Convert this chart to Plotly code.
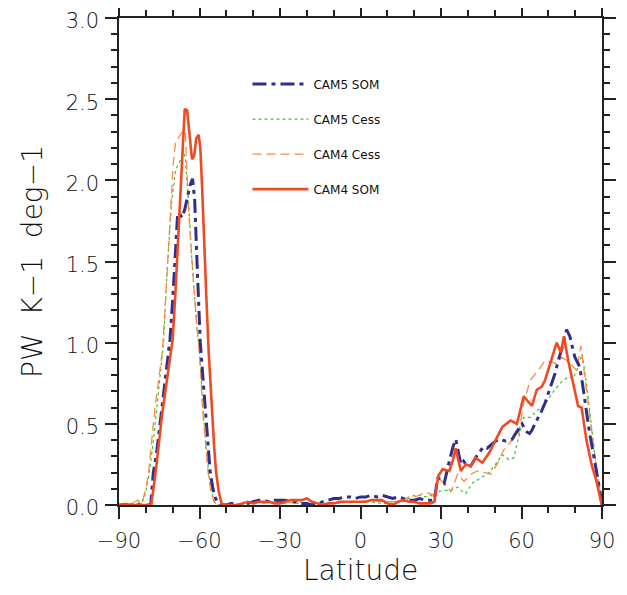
import plotly.graph_objects as go

# ---------------- data ----------------
lat_cam5_som = [-90, -85, -80, -78.2, -77.2, -76, -74, -72.5, -71, -70, -69, -68.2, -67.5, -66.6, -65.5,
                -64.5, -63.5, -62.6, -61.8, -60.7, -59.7, -58.8, -57.9, -57, -56, -55, -54, -53, -52,
                -50, -48, -46, -44, -42, -40, -38, -36, -34, -32, -30, -28, -26, -24, -22, -20, -18,
                -16, -14, -12, -10, -8, -6, -4, -2, 0, 2, 4, 6, 8, 10, 12, 14, 16, 18, 20, 22, 24, 26,
                27.5, 28.8, 30, 31.2, 33.1, 34.5, 35.5, 36.5, 37.4, 38.4, 39.9, 41.1, 42.5, 43.6, 45,
                46, 47.2, 48.5, 49.7, 51.6, 53, 54, 55.5, 56.5, 57.8, 59, 60.2, 61.2, 62, 63, 63.9, 65,
                66.3, 67.5, 68.8, 70.7, 72.5, 73.7, 75, 76.8, 78, 79, 79.9, 80.8, 81.7, 82.7, 83.6,
                84.5, 85.4, 86.3, 87.3, 88.2, 89.1, 90]
val_cam5_som = [0, 0, 0, 0.0, 0.2, 0.32, 0.6, 0.8, 1.02, 1.26, 1.6, 1.78, 1.8, 1.77, 1.82,
                1.9, 1.97, 2.01, 1.88, 1.4, 1.0, 0.8, 0.6, 0.4, 0.2, 0.1, 0.04, 0.01, 0.0,
                0.0, 0.01, 0.0, 0.0, 0.01, 0.02, 0.03, 0.03, 0.02, 0.03, 0.03, 0.03, 0.02, 0.02, 0.01, 0.01, 0.0,
                0.01, 0.02, 0.03, 0.04, 0.04, 0.05, 0.05, 0.04, 0.05, 0.05, 0.06, 0.05, 0.06, 0.05, 0.04, 0.05, 0.04, 0.03, 0.03, 0.04, 0.03, 0.03,
                0.03, 0.17, 0.15, 0.135, 0.27, 0.36, 0.405, 0.32, 0.25, 0.27, 0.24, 0.24, 0.28, 0.31, 0.34,
                0.36, 0.35, 0.37, 0.385, 0.405, 0.40, 0.395, 0.40, 0.405, 0.44, 0.47, 0.5, 0.47, 0.45, 0.44, 0.46, 0.5,
                0.54, 0.58, 0.63, 0.72, 0.81, 0.89, 0.96, 1.08, 1.04, 0.97, 0.91, 0.88, 0.85, 0.75, 0.64,
                0.54, 0.44, 0.36, 0.27, 0.18, 0.1, 0.0]

lat_cam5_cess = [-90, -86, -84, -82, -81, -80, -78.7, -77, -75.9, -74.5, -73.4, -72, -71, -70.3, -69,
                 -68, -67.2, -66, -65.3, -64.6, -64, -63, -62, -61, -60.2, -59.4, -58.8, -57.8, -56.6,
                 -55.5, -54.5, -53.5, -52, -48, -44, -40, -36, -32, -28, -24, -20, -16, -12, -8, -4, 0,
                 4, 8, 12, 16, 18, 20, 22, 24, 26, 27.5, 28.8, 30.6, 33.7, 36.2, 37.5, 39.2, 41.7, 44.8,
                 47.9, 50.3, 52.8, 55.3, 57.1, 59, 60.8, 63.3, 65.7, 68.8, 71.9, 75, 77.4, 79.3, 81.1,
                 82.6, 84.2, 86.1, 87.9, 89.8, 90]
val_cam5_cess = [0, 0.0, 0.01, 0.01, 0.03, 0.08, 0.2, 0.42, 0.6, 0.82, 1.0, 1.47, 1.7, 1.88, 2.05,
                 2.1, 2.12, 2.17, 2.14, 2.0, 1.85, 1.55, 1.3, 1.1, 0.98, 0.8, 0.6, 0.4, 0.2,
                 0.08, 0.02, 0.0, 0.0, 0.0, 0.0, 0.01, 0.02, 0.02, 0.01, 0.02, 0.01, 0.01, 0.01, 0.01, 0.02, 0.02,
                 0.02, 0.01, 0.01, 0.02, 0.04, 0.06, 0.06, 0.05, 0.06, 0.05, 0.08, 0.09, 0.09, 0.11, 0.09, 0.07, 0.135, 0.17,
                 0.2, 0.25, 0.31, 0.28, 0.29, 0.42, 0.54, 0.54, 0.58, 0.62, 0.70, 0.76, 0.79, 0.78, 0.85,
                 0.93, 0.75, 0.48, 0.23, 0.01, 0.0]

lat_cam4_cess = [-90, -88, -86, -84, -83, -82, -81, -80, -79, -77.8, -76.6, -75, -73.8, -72.5, -71.5,
                 -70.7, -69.8, -68.9, -67.5, -66, -65.3, -64.8, -64.1, -63, -62, -61, -60.3, -59.5, -58.9,
                 -57.9, -56.8, -55.7, -54.6, -53.5, -52, -48, -44, -40, -36, -32, -28, -24, -20, -16, -12,
                 -8, -4, 0, 4, 8, 12, 16, 18, 20, 22, 24, 26, 27.5, 28.8, 30.3, 31.8, 33.7, 35, 36.2, 38.6,
                 41.1, 43.6, 46, 48.5, 50.9, 53.4, 56.5, 59, 60.8, 63.3, 66.3, 68.8, 71.3, 73.1, 75, 76.8,
                 78.7, 80.5, 82.1, 83.6, 85.4, 87.3, 89.1, 90]
val_cam4_cess = [0, 0.01, 0.01, 0.02, 0.03, 0.01, 0.04, 0.1, 0.2, 0.4, 0.6, 0.8, 0.955, 1.3, 1.6,
                 1.88, 2.1, 2.24, 2.27, 2.31, 2.3, 2.1, 1.82, 1.55, 1.3, 1.1, 0.98, 0.8, 0.6,
                 0.4, 0.2, 0.08, 0.02, 0.0, 0.0, 0.0, 0.01, 0.01, 0.01, 0.02, 0.02, 0.01, 0.01, 0.0, 0.01,
                 0.01, 0.02, 0.02, 0.03, 0.02, 0.02, 0.03, 0.05, 0.05, 0.06, 0.08, 0.07, 0.06, 0.17, 0.15, 0.125, 0.08, 0.14, 0.19, 0.145,
                 0.19, 0.21, 0.2, 0.19, 0.25, 0.34, 0.40, 0.44, 0.63, 0.77, 0.83, 0.89, 0.88, 0.87, 0.91, 0.89,
                 0.86, 0.83, 0.98, 0.79, 0.54, 0.29, 0.08, 0.0]

lat_cam4_som = [-90, -80, -78, -77, -76, -74, -72, -70, -69, -68, -67.2, -66.3, -65.5, -64.6, -63.8,
                -62.8, -62, -61.2, -60.3, -59.7, -59, -58.3, -57.5, -56.6, -55.5, -54.5, -53.8, -52.8,
                -51.8, -50.5, -48, -46, -44, -42, -40, -38, -36, -34, -32, -30, -28, -26, -24, -22, -20,
                -18, -16, -14, -12, -10, -8, -6, -4, -2, 0, 2, 4, 6, 8, 10, 12, 14, 16, 18, 20, 22, 24,
                26, 27.5, 29, 30.6, 33.1, 34.5, 35.5, 36.4, 37.4, 39.2, 41.1, 42.9, 45.4, 47.9, 50.3,
                52.8, 55.9, 58.3, 60.8, 63.9, 65.7, 67.6, 68.8, 70.7, 73.1, 74.7, 75.8, 77.4, 79.3,
                81.1, 82.4, 84.2, 86.1, 87.9, 89.8, 90]
val_cam4_som = [0, 0, 0.0, 0.12, 0.25, 0.55, 0.8, 1.02, 1.3, 1.62, 1.9, 2.25, 2.44, 2.43, 2.3,
                2.13, 2.15, 2.26, 2.28, 2.2, 1.95, 1.6, 1.3, 0.95, 0.6, 0.35, 0.2, 0.08,
                0.01, 0.0, 0.0, 0.0, 0.01, 0.02, 0.01, 0.02, 0.02, 0.02, 0.01, 0.01, 0.02, 0.03, 0.03, 0.03, 0.04,
                0.02, 0.01, 0.0, 0.01, 0.01, 0.02, 0.02, 0.02, 0.02, 0.02, 0.02, 0.03, 0.03, 0.03, 0.01, 0.0, 0.02, 0.03, 0.02, 0.02, 0.01, 0.01,
                0.01, 0.02, 0.18, 0.22, 0.21, 0.28, 0.35, 0.28, 0.21, 0.25, 0.24, 0.29, 0.26, 0.32, 0.40,
                0.48, 0.52, 0.50, 0.67, 0.61, 0.71, 0.73, 0.77, 0.87, 1.0, 0.94, 1.04, 0.89, 0.75,
                0.61, 0.60, 0.40, 0.25, 0.15, 0.01, 0.0]

series_names = ["CAM5 SOM", "CAM5 Cess", "CAM4 Cess", "CAM4 SOM"]
x_ticks = [-90, -60, -30, 0, 30, 60, 90]
y_ticks = [0.0, 0.5, 1.0, 1.5, 2.0, 2.5, 3.0]
x_title = "Latitude"
y_title = "PW\u00a0\u00a0K\u22121\u00a0\u00a0deg\u22121"

# ---------------- figure ----------------
FONT = "DejaVu Sans"
INK = "#111111"
fig = go.Figure()

styles = {
    "CAM5 SOM": dict(color="#2f2f8c", width=3, dash="14px,5px,4px,5px"),
    "CAM5 Cess": dict(color="#3cbf3c", width=1.2, dash="3px,3px"),
    "CAM4 Cess": dict(color="#ff8a3d", width=1.3, dash="9px,5px"),
    "CAM4 SOM": dict(color="#ef4a24", width=2.6, dash="solid"),
}
data = {
    "CAM5 SOM": (lat_cam5_som, val_cam5_som),
    "CAM5 Cess": (lat_cam5_cess, val_cam5_cess),
    "CAM4 Cess": (lat_cam4_cess, val_cam4_cess),
    "CAM4 SOM": (lat_cam4_som, val_cam4_som),
}
draw_order = ["CAM5 Cess", "CAM4 Cess", "CAM5 SOM", "CAM4 SOM"]
for name in draw_order:
    xs, ys = data[name]
    fig.add_trace(go.Scatter(
        x=xs, y=ys, mode="lines", name=name, line=styles[name],
        legendrank=series_names.index(name) + 1, legendgroup=name,
    ))

axis_common = dict(
    showgrid=False, zeroline=False, showline=True, linecolor="#222222", linewidth=1.5,
    mirror="ticks", ticks="outside", ticklen=12, tickwidth=1.5, tickcolor="#222222",
    tickfont=dict(family=FONT, size=21, color=INK, weight=300), automargin=False,
    ticklabeloverflow="allow",
)
fig.update_xaxes(
    range=[-90, 90], tickvals=x_ticks, ticktext=[("\u2212" + str(-v)) if v < 0 else str(v) for v in x_ticks],
    minor=dict(dtick=10, ticklen=6, tickwidth=1.5, tickcolor="#222222", ticks="outside"),
    ticklabelstandoff=4,
    **axis_common,
)
fig.update_yaxes(
    range=[0, 3], tickvals=y_ticks, ticktext=[f"{v:.1f}" for v in y_ticks],
    minor=dict(dtick=0.1, ticklen=6, tickwidth=1.5, tickcolor="#222222", ticks="outside"),
    title=dict(text=y_title, font=dict(family=FONT, size=28, color=INK, weight=300), standoff=15),
    ticklabelstandoff=2, ticklabelshift=3,
    **axis_common,
)

fig.add_annotation(
    text=x_title, xref="paper", yref="paper", x=0.5, y=0, yshift=-65,
    xanchor="center", yanchor="middle", showarrow=False,
    font=dict(family=FONT, size=28, color=INK, weight=300),
)

fig.update_layout(
    width=611, height=579,
    margin=dict(l=111, r=17, t=10, b=82),
    paper_bgcolor="white", plot_bgcolor="white",
    showlegend=True,
    legend=dict(
        x=0.266, y=0.894, xanchor="left", yanchor="top",
        bgcolor="rgba(0,0,0,0)", borderwidth=0,
        font=dict(family=FONT, size=12, color=INK),
        itemwidth=56, tracegroupgap=16, traceorder="grouped",
    ),
)

fig.write_html("out.html")
